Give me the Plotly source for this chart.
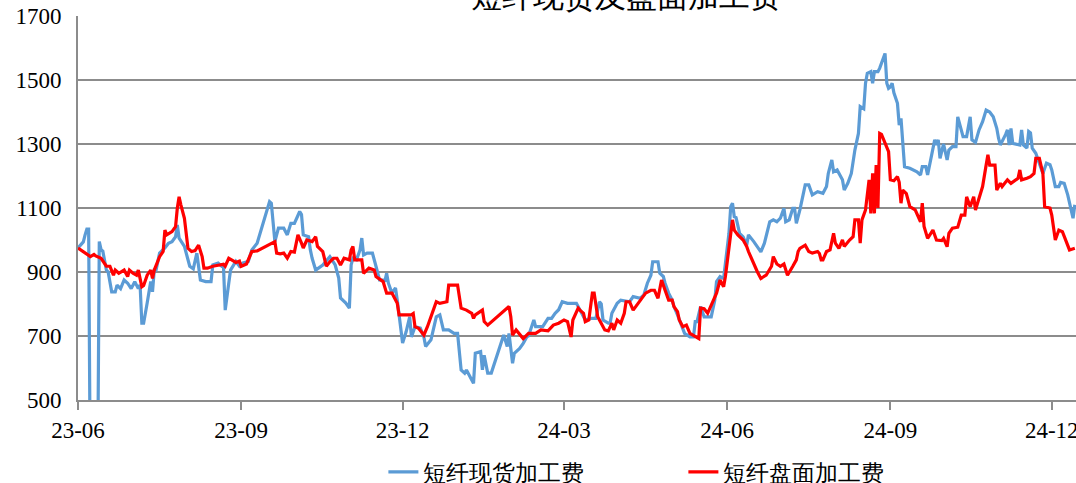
import plotly.graph_objects as go

# 短纤现货加工费 (spot processing fee)
spot_dates = [
    "2023-06-01", "2023-06-04", "2023-06-05", "2023-06-06", "2023-06-07", "2023-06-08", "2023-06-12", "2023-06-13",
    "2023-06-14", "2023-06-15", "2023-06-17", "2023-06-18", "2023-06-20", "2023-06-22", "2023-06-23", "2023-06-25",
    "2023-06-27", "2023-06-29", "2023-07-01", "2023-07-03", "2023-07-05", "2023-07-06", "2023-07-07", "2023-07-08",
    "2023-07-10", "2023-07-12", "2023-07-13", "2023-07-14", "2023-07-15", "2023-07-17", "2023-07-20", "2023-07-22",
    "2023-07-24", "2023-07-26", "2023-07-27", "2023-07-28", "2023-07-31", "2023-08-03", "2023-08-05", "2023-08-07",
    "2023-08-09", "2023-08-12", "2023-08-15", "2023-08-16", "2023-08-19", "2023-08-21", "2023-08-22", "2023-08-23",
    "2023-08-25", "2023-08-26", "2023-08-29", "2023-08-31", "2023-09-02", "2023-09-05", "2023-09-07", "2023-09-10",
    "2023-09-17", "2023-09-18", "2023-09-20", "2023-09-22", "2023-09-25", "2023-09-27", "2023-09-29", "2023-10-01",
    "2023-10-04", "2023-10-05", "2023-10-06", "2023-10-09", "2023-10-10", "2023-10-11", "2023-10-13", "2023-10-17",
    "2023-10-21", "2023-10-24", "2023-10-26", "2023-10-27", "2023-10-30", "2023-11-01", "2023-11-02", "2023-11-03",
    "2023-11-05", "2023-11-07", "2023-11-08", "2023-11-09", "2023-11-11", "2023-11-14", "2023-11-16", "2023-11-18",
    "2023-11-20", "2023-11-21", "2023-11-22", "2023-11-23", "2023-11-25", "2023-11-27", "2023-11-28", "2023-11-30",
    "2023-12-01", "2023-12-03", "2023-12-05", "2023-12-06", "2023-12-08", "2023-12-11", "2023-12-13", "2023-12-14",
    "2023-12-17", "2023-12-20", "2023-12-22", "2023-12-24", "2023-12-27", "2023-12-30", "2024-01-01", "2024-01-03",
    "2024-01-05", "2024-01-06", "2024-01-09", "2024-01-10", "2024-01-11", "2024-01-14", "2024-01-15", "2024-01-16",
    "2024-01-18", "2024-01-20", "2024-01-27", "2024-01-29", "2024-01-30", "2024-01-31", "2024-02-01", "2024-02-02",
    "2024-02-05", "2024-02-07", "2024-02-09", "2024-02-10", "2024-02-13", "2024-02-14", "2024-02-18", "2024-02-21",
    "2024-02-23", "2024-02-25", "2024-02-27", "2024-02-29", "2024-03-03", "2024-03-06", "2024-03-08", "2024-03-11",
    "2024-03-13", "2024-03-16", "2024-03-19", "2024-03-21", "2024-03-22", "2024-03-23", "2024-03-26", "2024-03-27",
    "2024-03-28", "2024-03-31", "2024-04-02", "2024-04-07", "2024-04-09", "2024-04-13", "2024-04-15", "2024-04-17",
    "2024-04-19", "2024-04-20", "2024-04-23", "2024-04-24", "2024-04-26", "2024-04-27", "2024-04-29", "2024-05-01",
    "2024-05-02", "2024-05-04", "2024-05-06", "2024-05-08", "2024-05-11", "2024-05-13", "2024-05-14", "2024-05-15",
    "2024-05-17", "2024-05-19", "2024-05-23", "2024-05-25", "2024-05-26", "2024-05-28", "2024-05-30", "2024-05-31",
    "2024-06-02", "2024-06-03", "2024-06-04", "2024-06-05", "2024-06-06", "2024-06-08", "2024-06-10", "2024-06-12",
    "2024-06-13", "2024-06-16", "2024-06-19", "2024-06-20", "2024-06-22", "2024-06-25", "2024-06-27", "2024-06-29",
    "2024-07-01", "2024-07-03", "2024-07-04", "2024-07-06", "2024-07-08", "2024-07-09", "2024-07-10", "2024-07-12",
    "2024-07-15", "2024-07-17", "2024-07-19", "2024-07-22", "2024-07-25", "2024-07-27", "2024-07-28", "2024-07-30",
    "2024-07-31", "2024-08-02", "2024-08-05", "2024-08-06", "2024-08-08", "2024-08-10", "2024-08-12", "2024-08-13",
    "2024-08-14", "2024-08-15", "2024-08-17", "2024-08-18", "2024-08-19", "2024-08-21", "2024-08-22", "2024-08-23",
    "2024-08-25", "2024-08-26", "2024-08-29", "2024-08-30", "2024-08-31", "2024-09-01", "2024-09-02", "2024-09-03",
    "2024-09-05", "2024-09-06", "2024-09-07", "2024-09-09", "2024-09-12", "2024-09-16", "2024-09-18", "2024-09-19",
    "2024-09-21", "2024-09-22", "2024-09-24", "2024-09-26", "2024-09-27", "2024-09-28", "2024-09-29", "2024-09-30",
    "2024-10-01", "2024-10-03", "2024-10-04", "2024-10-06", "2024-10-08", "2024-10-09", "2024-10-11", "2024-10-12",
    "2024-10-14", "2024-10-16", "2024-10-17", "2024-10-19", "2024-10-21", "2024-10-23", "2024-10-25", "2024-10-27",
    "2024-10-29", "2024-10-31", "2024-11-01", "2024-11-02", "2024-11-05", "2024-11-06", "2024-11-07", "2024-11-08",
    "2024-11-09", "2024-11-13", "2024-11-14", "2024-11-15", "2024-11-17", "2024-11-18", "2024-11-19", "2024-11-20",
    "2024-11-22", "2024-11-24", "2024-11-26", "2024-11-28", "2024-11-30", "2024-12-01", "2024-12-03", "2024-12-05",
    "2024-12-06", "2024-12-08", "2024-12-10", "2024-12-13", "2024-12-14",
]
spot_values = [
    975, 994, 1016, 1034, 1034, 200, 200, 995,
    970, 965, 906, 900, 838, 838, 859, 848,
    875, 865, 848, 870, 848, 860, 740, 740,
    803, 870, 838, 906, 906, 959, 975, 990,
    995, 1010, 1047, 1006, 980, 918, 910, 959,
    875, 870, 870, 922, 928, 918, 920, 781,
    865, 906, 933, 918, 928, 933, 969, 990,
    1120, 1115, 995, 1037, 1037, 1016, 1052, 1052,
    1089, 1080, 1016, 1010, 969, 943, 906, 922,
    948, 922, 881, 819, 803, 787, 922, 943,
    938, 969, 1006, 953, 959, 959, 918, 875,
    875, 870, 896, 865, 834, 850, 812, 734,
    678, 713, 760, 697, 729, 725, 697, 667,
    688, 760, 766, 719, 719, 708, 708, 594,
    584, 594, 562, 552, 646, 651, 594, 640,
    584, 584, 703, 667, 708, 667, 615, 646,
    661, 677, 697, 700, 750, 729, 729, 755,
    755, 771, 782, 807, 802, 802, 802, 771,
    750, 755, 755, 807, 800, 750, 740, 740,
    771, 802, 812, 807, 823, 818, 828, 865,
    890, 932, 932, 896, 886, 865, 834, 812,
    792, 766, 740, 708, 697, 697, 745, 745,
    792, 760, 760, 812, 870, 886, 880, 927,
    1021, 1104, 1115, 1073, 1070, 1021, 1010, 984,
    1016, 995, 974, 963, 990, 1057, 1063, 1057,
    1068, 1099, 1057, 1063, 1099, 1099, 1052, 1094,
    1172, 1172, 1141, 1151, 1146, 1167, 1208, 1250,
    1213, 1219, 1188, 1156, 1177, 1208, 1281, 1313,
    1333, 1417, 1410, 1490, 1521, 1526, 1490, 1526,
    1526, 1537, 1583, 1490, 1474, 1478, 1490, 1460,
    1427, 1359, 1380, 1229, 1224, 1213, 1203, 1229,
    1229, 1203, 1255, 1313, 1297, 1313, 1255, 1281,
    1300, 1250, 1281, 1292, 1292, 1385, 1340, 1323,
    1323, 1385, 1313, 1305, 1344, 1370, 1406, 1400,
    1385, 1349, 1318, 1297, 1330, 1344, 1297, 1349,
    1302, 1297, 1344, 1297, 1287, 1339, 1335, 1287,
    1271, 1240, 1208, 1240, 1235, 1219, 1167, 1167,
    1180, 1177, 1141, 1068, 1110,
]

# 短纤盘面加工费 (futures processing fee)
futures_dates = [
    "2023-06-01", "2023-06-08", "2023-06-10", "2023-06-11", "2023-06-14", "2023-06-15", "2023-06-17", "2023-06-19",
    "2023-06-21", "2023-06-22", "2023-06-24", "2023-06-27", "2023-06-29", "2023-06-30", "2023-07-02", "2023-07-04",
    "2023-07-05", "2023-07-07", "2023-07-08", "2023-07-10", "2023-07-12", "2023-07-13", "2023-07-14", "2023-07-17",
    "2023-07-19", "2023-07-20", "2023-07-21", "2023-07-24", "2023-07-26", "2023-07-27", "2023-07-28", "2023-07-29",
    "2023-07-31", "2023-08-02", "2023-08-04", "2023-08-06", "2023-08-08", "2023-08-10", "2023-08-11", "2023-08-13",
    "2023-08-16", "2023-08-19", "2023-08-22", "2023-08-23", "2023-08-25", "2023-08-29", "2023-08-31", "2023-09-01",
    "2023-09-04", "2023-09-07", "2023-09-10", "2023-09-20", "2023-09-21", "2023-09-23", "2023-09-25", "2023-09-27",
    "2023-09-29", "2023-10-01", "2023-10-03", "2023-10-05", "2023-10-06", "2023-10-08", "2023-10-11", "2023-10-13",
    "2023-10-14", "2023-10-17", "2023-10-19", "2023-10-21", "2023-10-23", "2023-10-25", "2023-10-27", "2023-10-29",
    "2023-11-01", "2023-11-02", "2023-11-03", "2023-11-04", "2023-11-08", "2023-11-09", "2023-11-12", "2023-11-15",
    "2023-11-16", "2023-11-20", "2023-11-22", "2023-11-25", "2023-11-26", "2023-11-28", "2023-11-29", "2023-12-06",
    "2023-12-07", "2023-12-08", "2023-12-10", "2023-12-13", "2023-12-15", "2023-12-17", "2023-12-20", "2023-12-22",
    "2023-12-26", "2023-12-27", "2024-01-01", "2024-01-03", "2024-01-06", "2024-01-09", "2024-01-10", "2024-01-11",
    "2024-01-15", "2024-01-16", "2024-01-18", "2024-01-30", "2024-01-31", "2024-02-01", "2024-02-03", "2024-02-07",
    "2024-02-10", "2024-02-14", "2024-02-17", "2024-02-21", "2024-02-24", "2024-02-27", "2024-03-01", "2024-03-03",
    "2024-03-05", "2024-03-06", "2024-03-09", "2024-03-10", "2024-03-12", "2024-03-13", "2024-03-15", "2024-03-17",
    "2024-03-18", "2024-03-20", "2024-03-22", "2024-03-24", "2024-03-26", "2024-03-28", "2024-03-29", "2024-03-31",
    "2024-04-02", "2024-04-04", "2024-04-05", "2024-04-07", "2024-04-09", "2024-04-16", "2024-04-19", "2024-04-21",
    "2024-04-23", "2024-04-24", "2024-04-25", "2024-04-27", "2024-04-29", "2024-05-01", "2024-05-02", "2024-05-04",
    "2024-05-05", "2024-05-07", "2024-05-09", "2024-05-11", "2024-05-14", "2024-05-16", "2024-05-17", "2024-05-19",
    "2024-05-21", "2024-05-24", "2024-05-26", "2024-05-28", "2024-05-30", "2024-05-31", "2024-06-02", "2024-06-04",
    "2024-06-05", "2024-06-07", "2024-06-10", "2024-06-12", "2024-06-13", "2024-06-15", "2024-06-18", "2024-06-20",
    "2024-06-23", "2024-06-26", "2024-06-27", "2024-06-29", "2024-07-01", "2024-07-03", "2024-07-05", "2024-07-08",
    "2024-07-10", "2024-07-11", "2024-07-12", "2024-07-15", "2024-07-17", "2024-07-19", "2024-07-22", "2024-07-23",
    "2024-07-24", "2024-07-25", "2024-07-27", "2024-07-29", "2024-07-31", "2024-08-01", "2024-08-03", "2024-08-05",
    "2024-08-06", "2024-08-09", "2024-08-11", "2024-08-12", "2024-08-14", "2024-08-15", "2024-08-16", "2024-08-18",
    "2024-08-19", "2024-08-20", "2024-08-21", "2024-08-22", "2024-08-23", "2024-08-24", "2024-08-25", "2024-08-26",
    "2024-08-27", "2024-08-29", "2024-08-31", "2024-09-01", "2024-09-03", "2024-09-05", "2024-09-06", "2024-09-07",
    "2024-09-08", "2024-09-10", "2024-09-12", "2024-09-15", "2024-09-18", "2024-09-19", "2024-09-20", "2024-09-22",
    "2024-09-25", "2024-09-27", "2024-09-30", "2024-10-01", "2024-10-03", "2024-10-04", "2024-10-06", "2024-10-09",
    "2024-10-11", "2024-10-13", "2024-10-14", "2024-10-16", "2024-10-18", "2024-10-19", "2024-10-21", "2024-10-23",
    "2024-10-25", "2024-10-26", "2024-10-27", "2024-10-30", "2024-10-31", "2024-11-02", "2024-11-03", "2024-11-05",
    "2024-11-06", "2024-11-08", "2024-11-12", "2024-11-13", "2024-11-14", "2024-11-17", "2024-11-19", "2024-11-21",
    "2024-11-22", "2024-11-24", "2024-11-26", "2024-11-27", "2024-11-30", "2024-12-01", "2024-12-03", "2024-12-05",
    "2024-12-07", "2024-12-11", "2024-12-14",
]
futures_values = [
    975, 948, 955, 950, 943, 935, 918, 918,
    890, 906, 896, 906, 886, 906, 896, 890,
    906, 854, 858, 890, 906, 880, 906, 948,
    964, 1031, 1016, 1026, 1042, 1100, 1135, 1110,
    1068, 974, 964, 967, 984, 948, 912, 912,
    918, 921, 924, 918, 943, 930, 934, 918,
    925, 964, 966, 995, 959, 957, 959, 943,
    964, 962, 1016, 990, 975, 1000, 995, 1010,
    980, 964, 918, 932, 943, 943, 922, 943,
    938, 969, 980, 938, 938, 896, 912, 906,
    886, 870, 834, 834, 823, 802, 766, 766,
    770, 729, 724, 703, 729, 760, 807, 802,
    807, 859, 859, 787, 781, 771, 755, 766,
    781, 745, 734, 792, 760, 703, 719, 692,
    708, 708, 719, 716, 734, 740, 750, 745,
    697, 750, 787, 781, 771, 745, 750, 834,
    834, 760, 740, 719, 716, 740, 719, 750,
    740, 771, 807, 807, 781, 834, 843, 843,
    818, 849, 875, 843, 812, 812, 792, 776,
    750, 729, 734, 708, 697, 692, 787, 785,
    771, 812, 834, 875, 854, 886, 980, 1063,
    1031, 1016, 1000, 980, 964, 938, 901, 880,
    890, 918, 948, 925, 918, 925, 890, 918,
    938, 964, 974, 984, 964, 959, 964, 958,
    938, 938, 964, 969, 1021, 990, 974, 1000,
    980, 1000, 1010, 1063, 1063, 990, 1063, 1094,
    1146, 1188, 1083, 1208, 1083, 1234, 1100, 1333,
    1330, 1302, 1276, 1188, 1185, 1198, 1180, 1115,
    1156, 1145, 1104, 1094, 1057, 1115, 1042, 1005,
    1031, 1000, 998, 1005, 979, 1021, 1037, 1040,
    1078, 1078, 1135, 1104, 1135, 1094, 1130, 1167,
    1234, 1266, 1234, 1234, 1156, 1177, 1167, 1182,
    1188, 1177, 1193, 1219, 1188, 1193, 1198, 1208,
    1255, 1255, 1208, 1104, 1100, 1078, 1000, 1031,
    1026, 969, 974,
]

tick_dates = ["2023-06-01", "2023-09-01", "2023-12-01", "2024-03-01", "2024-06-01", "2024-09-01", "2024-12-01"]
tick_labels = ["23-06", "23-09", "23-12", "24-03", "24-06", "24-09", "24-12"]
y_ticks = [500, 700, 900, 1100, 1300, 1500, 1700]

FONT = "Liberation Serif"
GRID = "#8C8C8C"

fig = go.Figure()
fig.add_trace(go.Scatter(
    x=spot_dates, y=spot_values, mode="lines", name="短纤现货加工费",
    line=dict(color="#5B9BD5", width=3.2),
))
fig.add_trace(go.Scatter(
    x=futures_dates, y=futures_values, mode="lines", name="短纤盘面加工费",
    line=dict(color="#FF0000", width=3.2),
))

fig.update_layout(
    width=1076, height=483,
    margin=dict(l=78, r=0, t=16, b=83, autoexpand=False),
    paper_bgcolor="white", plot_bgcolor="white",
    font=dict(family=FONT, color="black"),
    showlegend=True,
    legend=dict(
        orientation="h", x=0.306, xanchor="left", y=-0.1875, yanchor="middle",
        font=dict(size=23, family=FONT), entrywidth=255, entrywidthmode="pixels",
        bgcolor="rgba(0,0,0,0)",
    ),
    annotations=[dict(
        text="短纤现货及盘面加工费", xref="paper", yref="paper",
        x=0.549, y=1.05, xanchor="center", yanchor="middle",
        showarrow=False, font=dict(size=31, family=FONT, color="black"),
    )],
)
fig.update_xaxes(
    type="date", range=["2023-06-01", "2024-12-14 16:00"],
    tickmode="array", tickvals=tick_dates, ticktext=tick_labels,
    ticks="outside", ticklen=8, tickwidth=1.5, tickcolor=GRID,
    showline=True, linecolor=GRID, linewidth=2,
    showgrid=False, zeroline=False, automargin=False,
    tickfont=dict(size=23, family=FONT, color="black"),
    ticklabeloverflow="allow", ticklabelstandoff=0,
)
fig.update_yaxes(
    range=[500, 1700], tickmode="array", tickvals=y_ticks,
    showline=True, linecolor=GRID, linewidth=2,
    showgrid=True, gridcolor=GRID, gridwidth=1.5,
    ticks="", zeroline=False, automargin=False,
    tickfont=dict(size=23, family=FONT, color="black"),
    ticklabelstandoff=10,
)

fig.write_html(
    "out.html",
    config={"displayModeBar": False},
    post_script="document.body.style.margin='0';document.body.style.overflow='hidden';",
)
